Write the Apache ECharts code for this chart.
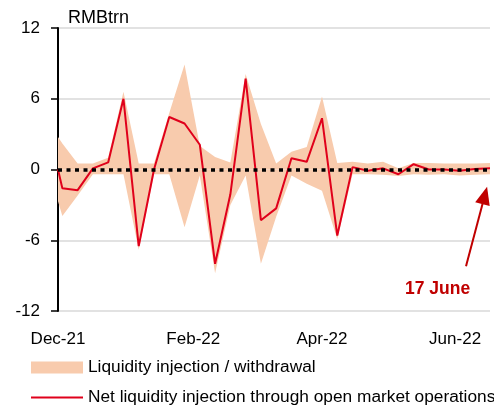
<!DOCTYPE html>
<html>
<head>
<meta charset="utf-8">
<script src="https://cdn.jsdelivr.net/npm/echarts@6/dist/echarts.min.js"></script>
<style>
  html, body { margin: 0; padding: 0; background: #fff; }
  #chart { width: 494px; height: 412px; }
</style>
</head>
<body>
<div id="chart"></div>
<script>
// weekly observations (Fridays), first point is the start of the axis
const dates = [
  '2021-12-01', '2021-12-03', '2021-12-10', '2021-12-17', '2021-12-24', '2021-12-31',
  '2022-01-07', '2022-01-14', '2022-01-21', '2022-01-28', '2022-02-04', '2022-02-11',
  '2022-02-18', '2022-02-25', '2022-03-04', '2022-03-11', '2022-03-18', '2022-03-25',
  '2022-04-01', '2022-04-08', '2022-04-15', '2022-04-22', '2022-04-29', '2022-05-06',
  '2022-05-13', '2022-05-20', '2022-05-27', '2022-06-03', '2022-06-10', '2022-06-17'
];
// net liquidity injection through OMO, RMB trn
const netInjection = [
  0, -1.6, -1.75, 0.1, 0.6, 6.0, -6.5, 0.0, 4.45, 3.9, 2.1, -8.0,
  -2.1, 7.7, -4.3, -3.3, 0.95, 0.65, 4.35, -5.6, 0.2, -0.1, 0.1, -0.4,
  0.45, 0.0, 0.0, -0.1, 0.05, 0.1
];
// upper edge of the band (gross injection)
const injection = [
  2.75, 2.2, 0.5, 0.5, 1.0, 6.6, 0.5, 0.5, 4.8, 8.9, 2.0, 1.05,
  0.6, 8.1, 3.85, 0.5, 1.5, 1.9, 6.2, 0.55, 0.65, 0.5, 0.65, 0.1,
  0.55, 0.55, 0.5, 0.5, 0.5, 0.55
];
// lower edge of the band (gross withdrawal)
const withdrawal = [
  -2.7, -3.95, -2.2, -0.4, -0.4, -0.4, -6.8, -0.4, -0.4, -4.9, -0.5, -8.8,
  -3.0, -0.5, -8.0, -4.0, -0.5, -1.2, -1.8, -5.9, -0.4, -0.4, -0.45, -0.55,
  -0.4, -0.45, -0.4, -0.5, -0.45, -0.4
];
const xTickDates = ['2021-12-01', '2022-02-01', '2022-04-01', '2022-06-01'];
const xTickLabels = ['Dec-21', 'Feb-22', 'Apr-22', 'Jun-22'];

const bandName = 'Liquidity injection / withdrawal';
const lineName = 'Net liquidity injection through open market operations';
const font = "'Liberation Sans', Arial, sans-serif";
const bandColor = '#F8CBAD';
const red = '#E0001B';

// x positions are days since the first date
const day0 = new Date(dates[0] + 'T00:00:00Z').getTime();
const toDay = (d) => Math.round((new Date(d + 'T00:00:00Z').getTime() - day0) / 86400000);
const pairs = (vals) => dates.map((d, i) => [toDay(d), vals[i]]);
const xTickDays = xTickDates.map(toDay);

const myChart = echarts.init(document.getElementById('chart'));

const legendText = { color: '#000', fontFamily: font, fontSize: 17.3 };

const option = {
  animation: false,
  backgroundColor: '#fff',
  grid: { left: 58, right: 4, top: 28, bottom: 101, containLabel: false },
  xAxis: {
    type: 'value',
    min: 0,
    max: toDay(dates[dates.length - 1]),
    axisLine: { show: false, onZero: false },
    axisTick: { show: false },
    splitLine: { show: false },
    axisLabel: {
      customValues: xTickDays,
      formatter: (v) => {
        const i = xTickDays.indexOf(Math.round(v));
        return i >= 0 ? xTickLabels[i] : '';
      },
      color: '#000',
      fontFamily: font,
      fontSize: 17,
      margin: 20
    }
  },
  yAxis: {
    type: 'value',
    min: -12,
    max: 12,
    interval: 6,
    axisLine: { show: true, onZero: false, lineStyle: { color: '#000', width: 2 } },
    axisTick: { show: true, length: 7, lineStyle: { color: '#000', width: 1.5 } },
    axisLabel: { color: '#000', fontFamily: font, fontSize: 17, margin: 18 },
    splitLine: {
      show: true,
      lineStyle: { color: ['#D9D9D9', '#D9D9D9', 'rgba(0,0,0,0)', '#D9D9D9', '#D9D9D9'], width: 1.5 }
    }
  },
  legend: [
    {
      left: 26,
      top: 354,
      itemWidth: 52,
      itemHeight: 12,
      textStyle: legendText,
      data: [{ name: bandName, icon: 'rect', itemStyle: { color: bandColor } }]
    },
    {
      left: 26,
      top: 384,
      itemWidth: 52,
      itemHeight: 2,
      textStyle: legendText,
      data: [{ name: lineName, icon: 'rect', itemStyle: { color: red } }]
    }
  ],
  series: [
    {
      name: bandName,
      type: 'line',
      data: pairs(injection),
      symbol: 'none',
      lineStyle: { width: 0, color: bandColor },
      itemStyle: { color: bandColor },
      areaStyle: { color: bandColor, opacity: 1 },
      z: 1
    },
    {
      name: bandName,
      type: 'line',
      data: pairs(withdrawal),
      symbol: 'none',
      lineStyle: { width: 0, color: bandColor },
      itemStyle: { color: bandColor },
      areaStyle: { color: bandColor, opacity: 1 },
      z: 1,
      markLine: {
        silent: true,
        symbol: 'none',
        label: { show: false },
        lineStyle: { color: '#000', type: [4, 4.5], width: 3.5 },
        data: [{ yAxis: 0 }]
      }
    },
    {
      name: lineName,
      type: 'line',
      data: pairs(netInjection),
      symbol: 'none',
      lineStyle: { width: 2, color: red },
      itemStyle: { color: red },
      z: 3,
      markLine: {
        silent: true,
        symbol: ['none', 'triangle'],
        symbolSize: [15, 18],
        label: { show: false },
        lineStyle: { color: '#C00000', type: 'solid', width: 2 },
        data: [[{ coord: [187, -8.2] }, { coord: [195.6, -2.2] }]]
      }
    }
  ],
  graphic: [
    {
      type: 'text',
      left: 68,
      top: 9,
      style: { text: 'RMBtrn', fill: '#000', font: '18px ' + font }
    },
    {
      type: 'text',
      left: 405,
      top: 280,
      style: { text: '17 June', fill: '#C00000', font: 'bold 17.5px ' + font }
    }
  ]
};

myChart.setOption(option);

window.addEventListener('resize', () => {
  myChart.resize();
});
</script>
</body>
</html>
